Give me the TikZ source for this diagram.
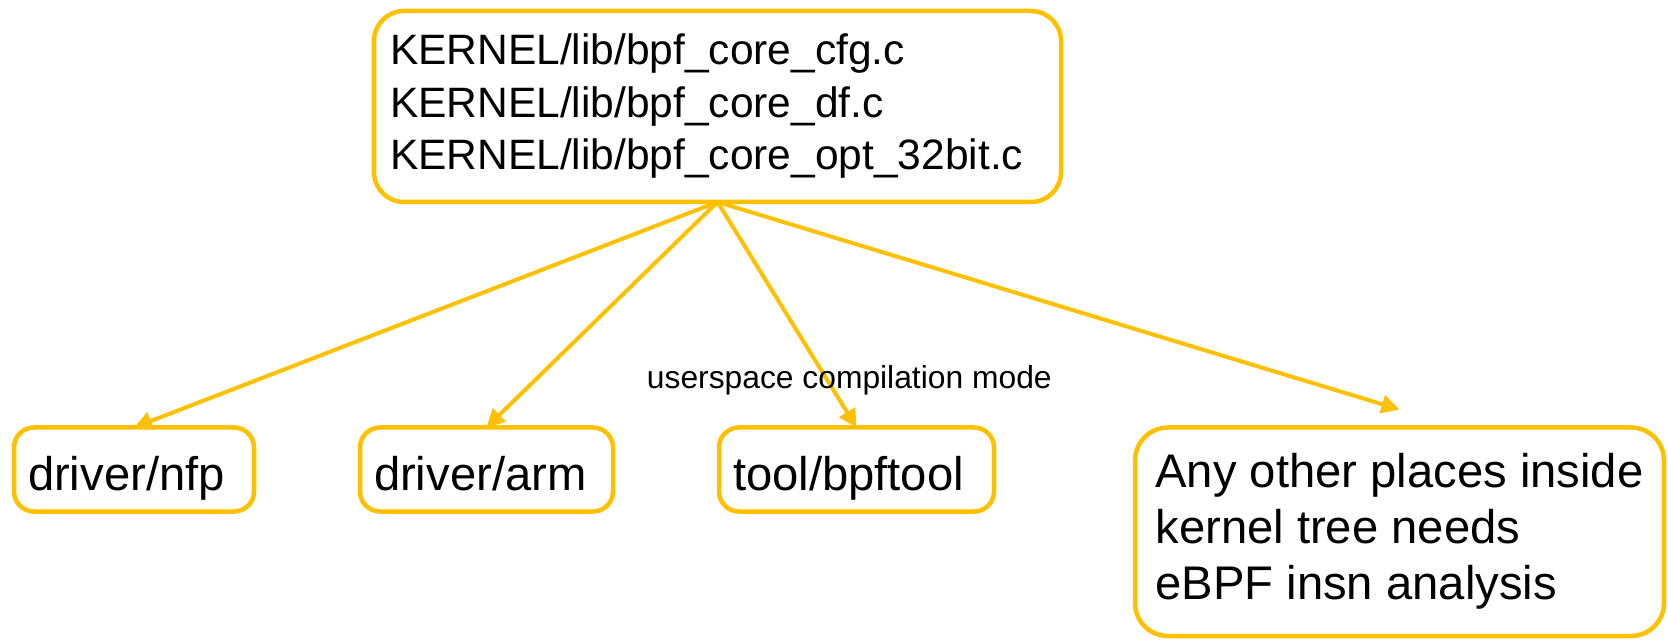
\documentclass[tikz,border=0pt]{standalone}
\usepackage{fontspec}
\setmainfont{Liberation Sans}
\usetikzlibrary{arrows.meta,positioning}
\definecolor{gold}{HTML}{FFC000}
\tikzset{
  box/.style={draw=gold,line width=2.25pt,rounded corners=#1,outer sep=0pt,inner xsep=7pt,inner ysep=0pt,align=left},
  box/.default=10pt,
  small/.style={box,minimum height=42pt,text height=26pt,text depth=5pt,font=\fontsize{23.6}{28}\selectfont},
  link/.style={draw=gold,line width=2pt,-{Triangle[length=9pt,width=9pt]}}
}

\begin{document}
\begin{tikzpicture}[x=0.5pt,y=-0.5pt]
      \useasboundingbox (0,0) rectangle (1668,640);
      \node[box=15pt,anchor=north west,inner xsep=8pt,text width=327.5pt,minimum height=95.5pt,font=\fontsize{21.25}{26.25}\selectfont] (core) at (374,11) {KERNEL/lib/bpf\_core\_cfg.c\\KERNEL/lib/bpf\_core\_df.c\\KERNEL/lib/bpf\_core\_opt\_32bit.c};

      \node[small,anchor=north west,text width=106pt] (nfp) at (14,427.5) {driver/nfp};
      \node[small,right = 53pt of nfp,text width=112.5pt] (arm) {driver/arm};
      \node[small,right = 53pt of arm,text width=123.5pt] (bpf) {tool/bpftool};
      \node[box=16.5pt,right = 70.5pt of bpf.north east,anchor=north west,minimum width=264.5pt,minimum height=104.25pt,font=\fontsize{23.6}{28}\selectfont] (any) {Any other places inside\\kernel tree needs\\eBPF insn analysis};
      \coordinate (anytip) at ([yshift=9pt]any.north);

      \draw[link] (core.south)--(nfp.north);
      \draw[link] (core.south)--(arm.north);
      \draw[link] (core.south)--node[pos=0.79,xshift=11pt,font=\fontsize{15.9}{19}\selectfont] (mode) {userspace compilation mode} (bpf.north);
      \draw[link] (core.south)--(anytip);
    \end{tikzpicture}
\end{document}
